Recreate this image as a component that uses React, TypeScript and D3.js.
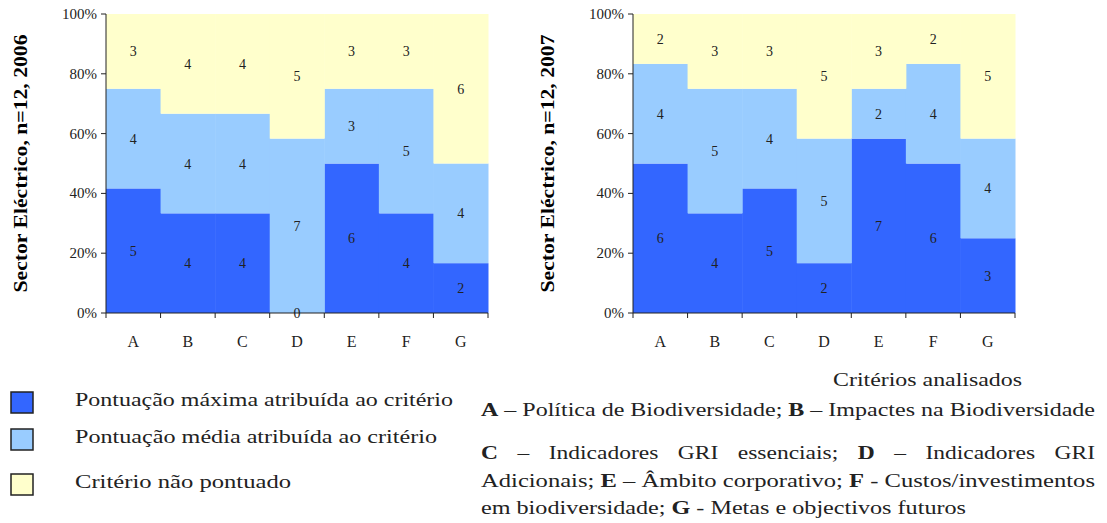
import * as d3 from 'd3';

const categories = ['A', 'B', 'C', 'D', 'E', 'F', 'G'];
const seriesKeys = ['max', 'media', 'nao'];
const max2006 = [5, 4, 4, 0, 6, 4, 2];
const media2006 = [4, 4, 4, 7, 3, 5, 4];
const nao2006 = [3, 4, 4, 5, 3, 3, 6];
const max2007 = [6, 4, 5, 2, 7, 6, 3];
const media2007 = [4, 5, 4, 5, 2, 4, 4];
const nao2007 = [2, 3, 3, 5, 3, 2, 5];
const yTicks = [0, 0.2, 0.4, 0.6, 0.8, 1];
const legendLabels = [
  'Pontuação máxima atribuída ao critério',
  'Pontuação média atribuída ao critério',
  'Critério não pontuado',
];

const COLORS = ['#3366ff', '#99ccff', '#ffffcc'];
const FONT = '"Liberation Serif", "DejaVu Serif", serif';

type Row = { cat: string; max: number; media: number; nao: number };

function buildRows(a: number[], b: number[], c: number[]): Row[] {
  return categories.map((cat, i) => ({ cat, max: a[i], media: b[i], nao: c[i] }));
}

function Panel({ rows, x0, title }: { rows: Row[]; x0: number; title: string }) {
  const top = 14;
  const bottom = 313;
  const width = 382;
  const x = d3.scaleBand().domain(categories).range([x0, x0 + width]).padding(0);
  const y = d3.scaleLinear().domain([0, 1]).range([bottom, top]);
  const stack = d3.stack<Row>().keys(seriesKeys).offset(d3.stackOffsetExpand);
  const layers = stack(rows);

  return (
    <g>
      {layers.map((layer, li) => (
        <g key={layer.key}>
          {layer.map((d, i) => (
            <rect
              key={i}
              x={x(rows[i].cat)}
              width={x.bandwidth() + 0.5}
              y={y(d[1])}
              height={y(d[0]) - y(d[1])}
              fill={COLORS[li]}
            />
          ))}
        </g>
      ))}
      {layers.map((layer) =>
        layer.map((d, i) => (
          <text
            key={layer.key + i}
            x={(x(rows[i].cat) as number) + x.bandwidth() / 2}
            y={y((d[0] + d[1]) / 2) + 5}
            textAnchor="middle"
            fontSize={14}
            fontFamily={FONT}
            fill="#222"
          >
            {(rows[i] as any)[layer.key]}
          </text>
        ))
      )}
      {/* y axis */}
      <line x1={x0} x2={x0} y1={top} y2={bottom} stroke="#222" />
      {yTicks.map((t) => (
        <g key={t}>
          <line x1={x0 - 5} x2={x0} y1={y(t)} y2={y(t)} stroke="#222" />
          <text
            x={x0 - 9}
            y={y(t) + 5}
            textAnchor="end"
            fontSize={15}
            fontFamily={FONT}
            fill="#222"
          >
            {d3.format('.0%')(t)}
          </text>
        </g>
      ))}
      {/* x axis */}
      <line x1={x0} x2={x0 + width} y1={bottom} y2={bottom} stroke="#222" />
      {categories.map((c) => (
        <line
          key={'t' + c}
          x1={x(c) as number}
          x2={x(c) as number}
          y1={bottom}
          y2={bottom + 5}
          stroke="#222"
        />
      ))}
      <line x1={x0 + width} x2={x0 + width} y1={bottom} y2={bottom + 5} stroke="#222" />
      {categories.map((c) => (
        <text
          key={'l' + c}
          x={(x(c) as number) + x.bandwidth() / 2}
          y={347}
          textAnchor="middle"
          fontSize={16}
          fontFamily={FONT}
          fill="#222"
        >
          {c}
        </text>
      ))}
      <text
        transform={`translate(${x0 - 79}, ${(top + bottom) / 2}) rotate(-90)`}
        textAnchor="middle"
        fontSize={19}
        fontWeight="bold"
        fontFamily={FONT}
        fill="#000"
        textLength={258}
        lengthAdjust="spacingAndGlyphs"
      >
        {title}
      </text>
    </g>
  );
}

export default function App() {
  const rows2006 = buildRows(max2006, media2006, nao2006);
  const rows2007 = buildRows(max2007, media2007, nao2007);
  const legendY = [392, 429, 474];
  const legendWidths = [378, 362, 216];

  return (
    <svg width={1107} height={523} style={{ position: 'absolute', left: 0, top: 0 }}>
      <rect width={1107} height={523} fill="#fff" />
      <Panel rows={rows2006} x0={106} title="Sector Eléctrico, n=12, 2006" />
      <Panel rows={rows2007} x0={633} title="Sector Eléctrico, n=12, 2007" />

      {legendLabels.map((l, i) => (
        <g key={l}>
          <rect
            x={11}
            y={legendY[i]}
            width={22}
            height={21}
            fill={COLORS[i]}
            stroke="#222"
            strokeWidth={1.5}
          />
          <text
            x={75}
            y={legendY[i] + 14}
            fontSize={19}
            fontFamily={FONT}
            fill="#222"
            textLength={legendWidths[i]}
            lengthAdjust="spacingAndGlyphs"
          >
            {l}
          </text>
        </g>
      ))}

      <g fontSize={19} fontFamily={FONT} fill="#222">
        <text x={833} y={386} textLength={189} lengthAdjust="spacingAndGlyphs">
          Critérios analisados
        </text>
        <text x={481} y={416} textLength={614} lengthAdjust="spacingAndGlyphs">
          <tspan fontWeight="bold">A</tspan> – Política de Biodiversidade; <tspan fontWeight="bold">B</tspan> – Impactes na Biodiversidade
        </text>
        <text x={481} y={459} textLength={614} lengthAdjust="spacingAndGlyphs" wordSpacing={11}>
          <tspan fontWeight="bold">C</tspan> – Indicadores GRI essenciais; <tspan fontWeight="bold">D</tspan> – Indicadores GRI
        </text>
        <text x={481} y={487} textLength={614} lengthAdjust="spacingAndGlyphs">
          Adicionais; <tspan fontWeight="bold">E</tspan> – Âmbito corporativo; <tspan fontWeight="bold">F</tspan> - Custos/investimentos
        </text>
        <text x={481} y={514} textLength={485} lengthAdjust="spacingAndGlyphs">
          em biodiversidade; <tspan fontWeight="bold">G</tspan> - Metas e objectivos futuros
        </text>
      </g>
    </svg>
  );
}
